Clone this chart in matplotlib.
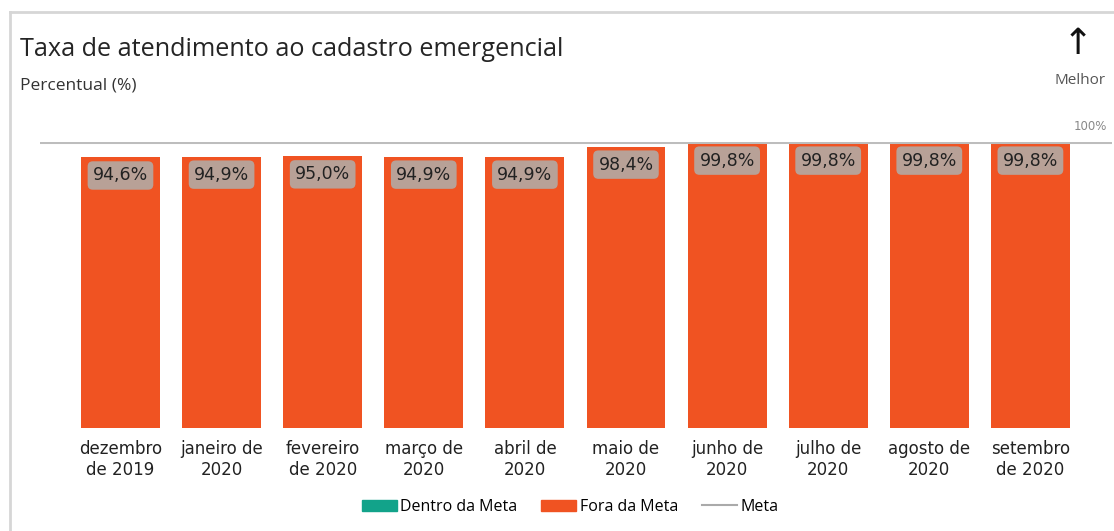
import matplotlib.pyplot as plt
from matplotlib.lines import Line2D
from matplotlib.patches import Patch

# dados
meses = ['dezembro\nde 2019', 'janeiro de\n2020', 'fevereiro\nde 2020', 'março de\n2020',
         'abril de\n2020', 'maio de\n2020', 'junho de\n2020', 'julho de\n2020',
         'agosto de\n2020', 'setembro\nde 2020']
valores = [94.6, 94.9, 95.0, 94.9, 94.9, 98.4, 99.8, 99.8, 99.8, 99.8]
meta = 100

laranja = '#f05322'
verde = '#12a38a'

fig = plt.figure(figsize=(11.14, 5.31), dpi=100)
W, H = 1114, 531
ax = fig.add_axes([40 / W, 103 / H, 1072 / W, 286 / H])

x = list(range(len(valores)))
bars = ax.bar(x, valores, width=0.78, color=laranja)
ax.axhline(meta, color='#bdbdbd', lw=2.2, zorder=3)

for b, v in zip(bars, valores):
    ax.annotate(('%.1f%%' % v).replace('.', ','), (b.get_x() + b.get_width() / 2, v),
                xytext=(0, -13), textcoords='offset points', ha='center', va='center',
                fontsize=12.5, color='#222222', family='DejaVu Sans',
                bbox=dict(boxstyle='round,pad=0.3,rounding_size=0.3', fc='#b8a197', ec='none'))

ax.set_xlim(-0.796, 9.807)
ax.set_ylim(0, 100)
ax.set_xticks(x)
ax.set_xticklabels(meses, fontsize=12, family='DejaVu Sans', color='#222222', linespacing=1.15)
ax.tick_params(axis='x', length=0, pad=9)
ax.set_yticks([])
for s in ax.spines.values():
    s.set_visible(False)

ax.text(1107 / 1112, 1.03, '100%', transform=ax.transAxes, ha='right', va='bottom',
        fontsize=8.5, color='#888888', family='DejaVu Sans')

# titulo
fig.text(20 / W, 1 - 49 / H, 'Taxa de atendimento ao cadastro emergencial', fontsize=18.2,
         family='Open Sans', color='#252525', va='center', ha='left')
fig.text(20 / W, 1 - 85 / H, 'Percentual (%)', fontsize=12.5, family='Open Sans',
         color='#333333', va='center', ha='left')
fig.text(1078 / W, 1 - 44 / H, '↑', fontsize=26, family='DejaVu Sans', color='#111111',
         ha='center', va='center')
fig.text(1080 / W, 1 - 80 / H, 'Melhor', fontsize=11, family='Open Sans', color='#555555',
         ha='center', va='center')

# moldura
fig.add_artist(Line2D([10 / W, 1], [1 - 12 / H, 1 - 12 / H], color='#d6d6d6', lw=2))
fig.add_artist(Line2D([10 / W, 10 / W], [0, 1 - 12 / H], color='#d6d6d6', lw=2))

handles = [Patch(color=verde, label='Dentro da Meta'),
           Patch(color=laranja, label='Fora da Meta'),
           Line2D([0], [0], color='#aaaaaa', lw=1.5, label='Meta')]
fig.legend(handles=handles, loc='center', bbox_to_anchor=(570 / W, 24 / H), ncol=3,
           frameon=False, prop={'family': 'Open Sans', 'size': 11.5}, handlelength=2.2,
           handleheight=0.7, handletextpad=0.2, columnspacing=1.5)

fig.savefig('out.png', dpi=100)
